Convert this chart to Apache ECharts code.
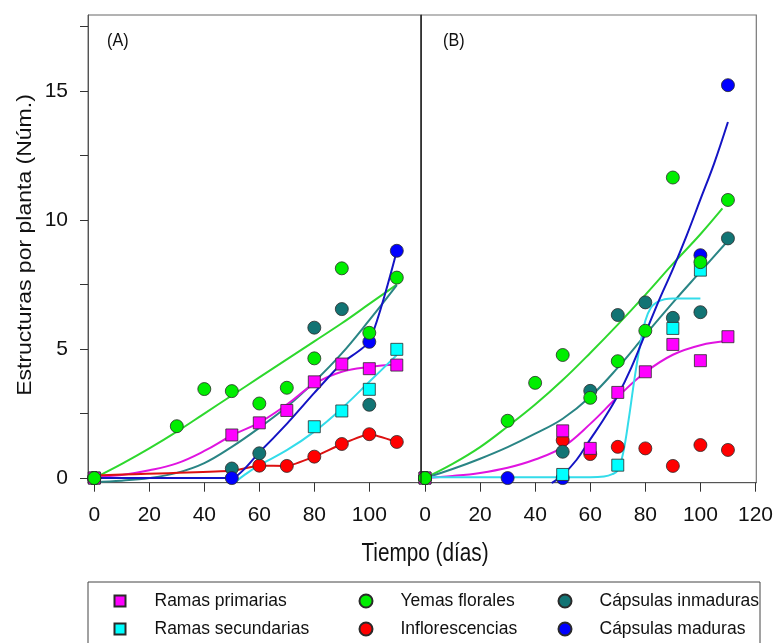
<!DOCTYPE html>
<html><head><meta charset="utf-8">
<script src="https://cdn.jsdelivr.net/npm/echarts@6/dist/echarts.min.js"></script>
<style>html,body{margin:0;padding:0;background:#fff}#c{width:776px;height:643px}</style>
</head><body><div id="c"></div>
<script>
// ---------- tick labels ----------
const yTicks = [0, 2.5, 5, 7.5, 10, 12.5, 15, 17.5];
const yLabels = [0, 5, 10, 15];
const xTicksA = [0, 20, 40, 60, 80, 100];
const xTicksB = [0, 20, 40, 60, 80, 100, 120];

// ---------- series names ----------
const names = ['Ramas primarias', 'Ramas secundarias', 'Yemas florales', 'Inflorescencias', 'Cápsulas inmaduras', 'Cápsulas maduras'];

// ---------- Panel A observed points ----------
const primA_x = [0, 50, 60, 70, 80, 90, 100, 110];
const primA_y = [0, 1.67, 2.14, 2.62, 3.73, 4.42, 4.24, 4.38];
const secA_x = [0, 80, 90, 100, 110];
const secA_y = [0, 1.99, 2.6, 3.44, 4.99];
const yemA_x = [0, 30, 40, 50, 60, 70, 80, 90, 100, 110];
const yemA_y = [0, 2.01, 3.45, 3.37, 2.89, 3.5, 4.64, 8.13, 5.63, 7.77];
const infA_x = [0, 60, 70, 80, 90, 100, 110];
const infA_y = [0, 0.48, 0.47, 0.83, 1.32, 1.7, 1.4];
const inmA_x = [0, 50, 60, 80, 90, 100];
const inmA_y = [0, 0.37, 0.96, 5.83, 6.55, 2.84];
const madA_x = [0, 50, 100, 110];
const madA_y = [0, 0, 5.28, 8.81];

// ---------- Panel A fitted curves ----------
const fitA_x = [0, 10, 20, 30, 40, 50, 60, 70, 80, 90, 100, 110];
const fitYemA = [0, 0.55, 1.15, 1.8, 2.5, 3.2, 3.9, 4.6, 5.3, 6.0, 6.75, 7.5];
const fitPrimA = [0.05, 0.12, 0.3, 0.57, 1.05, 1.65, 2.15, 2.85, 3.65, 4.12, 4.31, 4.4];
const fitInmA = [-0.15, -0.1, 0.0, 0.2, 0.58, 1.21, 1.95, 2.76, 3.73, 4.83, 6.12, 7.48];
const fitSecA_x = [51, 55, 60, 70, 80, 90, 100, 110];
const fitSecA = [-0.18, 0.15, 0.5, 1.08, 1.8, 2.7, 3.73, 4.77];
const fitMadA_x = [0, 50, 60, 70, 80, 90, 100, 110];
const fitMadA = [0, 0, 1.0, 2.1, 3.3, 4.45, 5.3, 8.8];
const fitInfA_x = [0, 50, 60, 70, 80, 90, 100, 110];
const fitInfA = [0.1, 0.28, 0.48, 0.47, 0.83, 1.32, 1.7, 1.4];

// ---------- Panel B observed points ----------
const primB_x = [0, 50, 60, 70, 80, 90, 100, 110];
const primB_y = [0, 1.83, 1.15, 3.32, 4.12, 5.18, 4.55, 5.48];
const secB_x = [0, 50, 70, 90, 100];
const secB_y = [0, 0.14, 0.5, 5.8, 8.06];
const yemB_x = [0, 30, 40, 50, 60, 70, 80, 90, 100, 110];
const yemB_y = [0, 2.22, 3.69, 4.77, 3.11, 4.53, 5.71, 11.65, 8.37, 10.78];
const infB_x = [0, 50, 60, 70, 80, 90, 100, 110];
const infB_y = [0, 1.47, 0.93, 1.21, 1.15, 0.47, 1.28, 1.09];
const inmB_x = [0, 50, 60, 70, 80, 90, 100, 110];
const inmB_y = [0, 1.02, 3.38, 6.32, 6.81, 6.21, 6.43, 9.29];
const madB_x = [0, 30, 50, 100, 110];
const madB_y = [0, 0, 0, 8.64, 15.23];

// ---------- Panel B fitted curves ----------
const fitYemB_x = [0, 10, 20, 30, 40, 50, 60, 70, 80, 90, 100, 108];
const fitYemB = [0, 0.55, 1.2, 2.0, 2.85, 3.8, 4.85, 5.95, 7.1, 8.3, 9.45, 10.45];
const fitB_x = [0, 10, 20, 30, 40, 50, 60, 70, 80, 90, 100, 110];
const fitInmB = [0, 0.35, 0.75, 1.2, 1.72, 2.3, 3.15, 4.28, 5.55, 6.8, 8.0, 9.2];
const fitPrimB = [0, 0.08, 0.2, 0.4, 0.72, 1.2, 2.1, 3.15, 4.1, 4.78, 5.15, 5.32];
const fitSecB_x = [0, 20, 40, 60, 65, 68, 70, 72, 74, 76, 78, 80, 82, 84, 87, 90, 100];
const fitSecB = [0.03, 0.03, 0.03, 0.03, 0.06, 0.15, 0.3, 1.0, 2.3, 3.8, 5.1, 6.1, 6.6, 6.8, 6.93, 6.96, 6.96];
const fitMadB_x = [46, 50, 55, 60, 65, 70, 75, 80, 85, 90, 95, 100, 105, 110];
const fitMadB = [-0.2, 0.12, 0.7, 1.5, 2.3, 3.2, 4.3, 5.6, 6.9, 8.1, 9.4, 10.8, 12.2, 13.8];

// ---------- styling ----------
const FONT = "'Liberation Sans Narrow','Arial Narrow','Liberation Sans',sans-serif";
const markerColor = {
  'Ramas primarias': '#ff00ff', 'Ramas secundarias': '#00ffff', 'Yemas florales': '#00ee00',
  'Inflorescencias': '#ff0000', 'Cápsulas inmaduras': '#127474', 'Cápsulas maduras': '#0000ff'
};
const lineColor = {
  'Ramas primarias': '#e014e0', 'Ramas secundarias': '#33dcea', 'Yemas florales': '#2ed82e',
  'Inflorescencias': '#dd1111', 'Cápsulas inmaduras': '#2a8585', 'Cápsulas maduras': '#1414c4'
};
const isSquare = n => n.startsWith('Ramas');

const zip = (xs, ys) => xs.map((x, i) => [x, ys[i]]);

function fit(name, panel, xs, ys, smooth) {
  return {
    type: 'line', name: 'fit_' + panel + '_' + name, xAxisIndex: panel, yAxisIndex: panel,
    data: zip(xs, ys), showSymbol: false, symbol: 'none', smooth: smooth,
    lineStyle: { color: lineColor[name], width: 2 }, z: 2, silent: true, animation: false
  };
}
function pts(name, panel, xs, ys) {
  return {
    type: 'scatter', name: name, xAxisIndex: panel, yAxisIndex: panel,
    data: zip(xs, ys), symbol: isSquare(name) ? 'rect' : 'circle',
    symbolSize: isSquare(name) ? 12 : 13,
    itemStyle: { color: markerColor[name], borderColor: '#2a2a2a', borderWidth: 0.8, opacity: 1 },
    z: 3, animation: false
  };
}

const series = [
  fit('Yemas florales', 0, fitA_x, fitYemA, 0.4),
  fit('Cápsulas inmaduras', 0, fitA_x, fitInmA, 0.4),
  fit('Ramas primarias', 0, fitA_x, fitPrimA, 0.4),
  fit('Ramas secundarias', 0, fitSecA_x, fitSecA, 0.4),
  fit('Inflorescencias', 0, fitInfA_x, fitInfA, 0.15),
  fit('Cápsulas maduras', 0, fitMadA_x, fitMadA, 0.2),
  fit('Yemas florales', 1, fitYemB_x, fitYemB, 0.4),
  fit('Cápsulas inmaduras', 1, fitB_x, fitInmB, 0.4),
  fit('Ramas primarias', 1, fitB_x, fitPrimB, 0.4),
  fit('Ramas secundarias', 1, fitSecB_x, fitSecB, 0.4),
  fit('Cápsulas maduras', 1, fitMadB_x, fitMadB, 0.4),
  pts('Inflorescencias', 0, infA_x, infA_y),
  pts('Cápsulas inmaduras', 0, inmA_x, inmA_y),
  pts('Cápsulas maduras', 0, madA_x, madA_y),
  pts('Ramas secundarias', 0, secA_x, secA_y),
  pts('Ramas primarias', 0, primA_x, primA_y),
  pts('Yemas florales', 0, yemA_x, yemA_y),
  pts('Inflorescencias', 1, infB_x, infB_y),
  pts('Cápsulas inmaduras', 1, inmB_x, inmB_y),
  pts('Cápsulas maduras', 1, madB_x, madB_y),
  pts('Ramas secundarias', 1, secB_x, secB_y),
  pts('Ramas primarias', 1, primB_x, primB_y),
  pts('Yemas florales', 1, yemB_x, yemB_y)
];

const axisGray = '#555';
function xAxis(idx, min, max, ticks) {
  return {
    type: 'value', gridIndex: idx, min: min, max: max, position: 'bottom',
    axisLine: { show: true, onZero: false, lineStyle: { color: axisGray, width: 1 } },
    axisTick: { show: true, customValues: ticks, length: 9, lineStyle: { color: '#333' } },
    axisLabel: { customValues: ticks, margin: 22, fontSize: 21, fontFamily: FONT, color: '#111' },
    splitLine: { show: false }
  };
}
function yAxis(idx, showLabels) {
  return {
    type: 'value', gridIndex: idx, min: -0.18, max: 17.95, position: 'left',
    axisLine: { show: true, onZero: false, lineStyle: { color: axisGray, width: 1 } },
    axisTick: { show: showLabels, customValues: yTicks, length: 8, lineStyle: { color: '#333' } },
    axisLabel: { show: showLabels, customValues: yLabels, margin: 20, fontSize: 21, fontFamily: FONT, color: '#111' },
    splitLine: { show: false }
  };
}

const legendText = (pad) => ({ fontSize: 17.5, fontFamily: FONT, color: '#111', lineHeight: 22, padding: [0, 0, 0, pad] });
const legendBase = { orient: 'vertical', top: 590, padding: 0, itemGap: 6, selectedMode: false, height: 52 };

const option = {
  backgroundColor: '#fff',
  animation: false,
  grid: [
    { left: 88, top: 15, width: 333, height: 467.7, show: true, borderColor: '#666', borderWidth: 1 },
    { left: 421, top: 15, width: 337, height: 467.7, show: true, borderColor: '#777', borderWidth: 1.2 }
  ],
  xAxis: [xAxis(0, -2.3, 118.8, xTicksA), xAxis(1, -1.45, 120.3, xTicksB)],
  yAxis: [yAxis(0, true), yAxis(1, false)],
  legend: [
    Object.assign({}, legendBase, { left: 113.5, itemWidth: 11, itemHeight: 11,
      data: [{ name: names[0], icon: 'rect' }, { name: names[1], icon: 'rect' }], textStyle: legendText(24) }),
    Object.assign({}, legendBase, { left: 358.5, itemWidth: 13, itemHeight: 13,
      data: [{ name: names[2], icon: 'circle' }, { name: names[3], icon: 'circle' }], textStyle: legendText(23) }),
    Object.assign({}, legendBase, { left: 557.5, itemWidth: 13, itemHeight: 13,
      data: [{ name: names[4], icon: 'circle' }, { name: names[5], icon: 'circle' }], textStyle: legendText(23) })
  ],
  graphic: [
    { type: 'line', shape: { x1: 421, y1: 15, x2: 421, y2: 482.7 }, style: { stroke: '#111', lineWidth: 1 }, z: 10 },
    { type: 'rect', shape: { x: 88, y: 582, width: 672, height: 80 }, style: { fill: 'none', stroke: '#444', lineWidth: 1 }, z: 1 },
    { type: 'text', x: 107, y: 41, scaleX: 0.85, style: { text: '(A)', fontSize: 19, fontFamily: FONT, fill: '#111', textVerticalAlign: 'middle' } },
    { type: 'text', x: 443, y: 41, scaleX: 0.85, style: { text: '(B)', fontSize: 19, fontFamily: FONT, fill: '#111', textVerticalAlign: 'middle' } },
    { type: 'text', x: 425, y: 554, scaleX: 0.83, style: { text: 'Tiempo (días)', fontSize: 25, fontFamily: FONT, fill: '#111', textAlign: 'center', textVerticalAlign: 'middle' } },
    { type: 'text', x: 25, y: 245, rotation: Math.PI / 2, scaleY: 0.9, style: { text: 'Estructuras por planta (Núm.)', fontSize: 23, fontFamily: "'Liberation Sans',sans-serif", fill: '#111', textAlign: 'center', textVerticalAlign: 'middle' } }
  ],
  series: series
};

const chart = echarts.init(document.getElementById('c'), null, { renderer: 'canvas' });
chart.setOption(option);
</script>
</body></html>
